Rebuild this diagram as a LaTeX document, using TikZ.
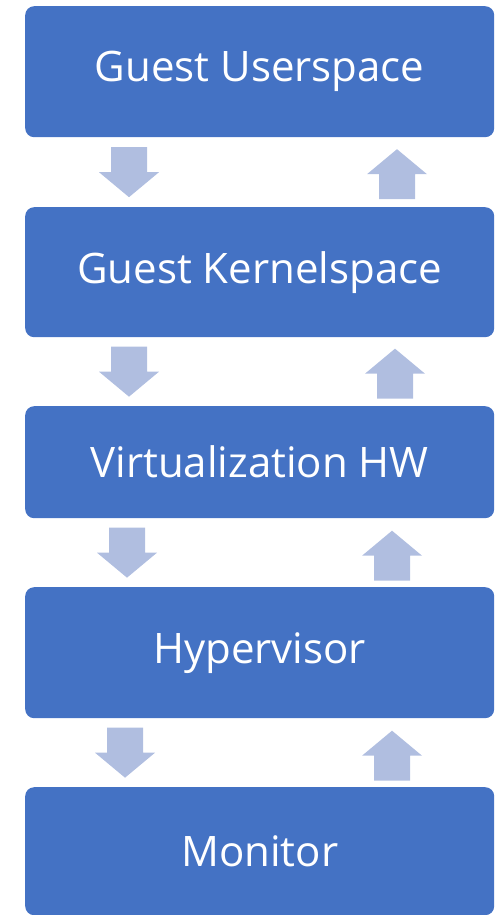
\documentclass[tikz,border=0pt]{standalone}
\usepackage{fontspec}
\setmainfont{Open Sans}
\usetikzlibrary{calc}
\definecolor{layerblue}{HTML}{4472C4}
\definecolor{flowblue}{HTML}{B0BEE0}
\tikzset{
  layer/.style={fill=layerblue, rounded corners=9pt, text=white,
    font=\fontsize{42}{48}\selectfont, inner sep=0pt,
    minimum width=469pt, anchor=north west},
  % block arrow pointing down, centred on its pic origin
  blockarrow/.pic={
    \fill[flowblue] (-18pt,25pt) -- (18pt,25pt) -- (18pt,0pt) -- (30pt,0pt)
      -- (0pt,-25pt) -- (-30pt,0pt) -- (-18pt,0pt) -- cycle;
  }
}
\begin{document}
\begin{tikzpicture}[x=1pt,y=1pt]
  \useasboundingbox (0,0) rectangle (495,-915);

  \node[layer, minimum height=131pt] (user)   at (25,-6)   {Guest Userspace};
  \node[layer, minimum height=130pt] (kernel) at (25,-207) {Guest Kernelspace};
  \node[layer, minimum height=112pt] (virt)   at (25,-406) {Virtualization HW};
  \node[layer, minimum height=131pt] (hyp)    at (25,-587) {Hypervisor};
  \node[layer, minimum height=128pt] (mon)    at (25,-787) {Monitor};

  % downward flow on the left
  \pic at ($(user.south west)!0.5!(kernel.north west)+(104,0)$) {blockarrow};
  \pic at ($(kernel.south west)!0.5!(virt.north west)+(104,0)$) {blockarrow};
  \pic at ($(virt.south west)!0.5!(hyp.north west)+(102,0)$) {blockarrow};
  \pic at ($(hyp.south west)!0.5!(mon.north west)+(100,0)$) {blockarrow};

  % upward flow on the right
  \pic[rotate=180] at ($(user.south west)!0.5!(kernel.north west)+(372,-2)$) {blockarrow};
  \pic[rotate=180] at ($(kernel.south west)!0.5!(virt.north west)+(370,-2)$) {blockarrow};
  \pic[rotate=180] at ($(virt.south west)!0.5!(hyp.north west)+(367,-3)$) {blockarrow};
  \pic[rotate=180] at ($(hyp.south west)!0.5!(mon.north west)+(367,-3)$) {blockarrow};
\end{tikzpicture}
\end{document}
